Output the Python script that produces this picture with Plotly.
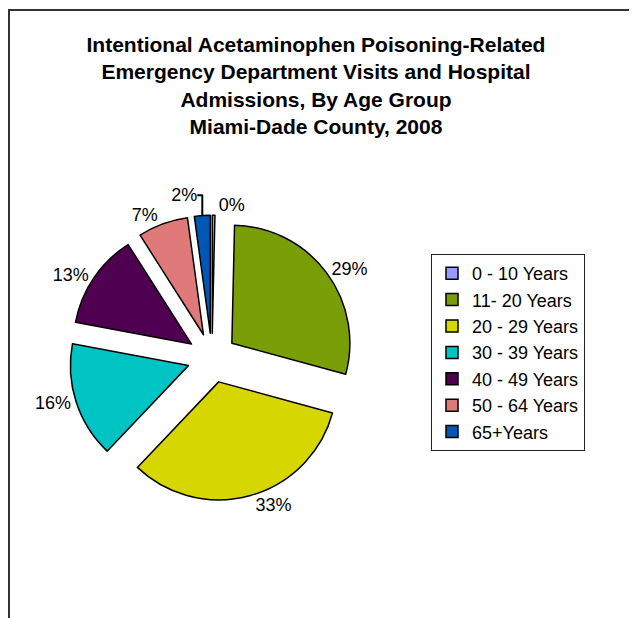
import plotly.graph_objects as go

age_groups = ["0 - 10 Years", "11- 20 Years", "20 - 29 Years", "30 - 39 Years",
              "40 - 49 Years", "50 - 64 Years", "65+Years"]
visits = [1, 80, 91, 44, 36, 19, 6]
slice_colors = ["#9999FF", "#7A9E08", "#D6D600", "#00C4C4", "#500050", "#E07A7A", "#0058B4"]

title_lines = ["Intentional Acetaminophen Poisoning-Related",
               "Emergency Department Visits and Hospital",
               "Admissions, By Age Group",
               "Miami-Dade County, 2008"]

W, H = 637, 618

fig = go.Figure()
fig.add_trace(go.Pie(
    labels=age_groups,
    values=visits,
    sort=False,
    direction="clockwise",
    rotation=0,
    pull=0.21,
    marker=dict(colors=slice_colors, line=dict(color="black", width=1.5)),
    textposition="outside",
    texttemplate="%{percent:.0%}",
    textfont=dict(family="Liberation Sans, Arial, sans-serif", size=18, color="black"),
    hoverinfo="label+percent+value",
    domain=dict(x=[0.0961, 0.5444], y=[0.2026, 0.6647]),
))

fig.update_layout(
    width=W, height=H,
    margin=dict(l=0, r=0, t=0, b=0, autoexpand=False),
    paper_bgcolor="white",
    plot_bgcolor="white",
    title=dict(
        text="<br>".join(title_lines),
        x=0.4835, xanchor="center",
        y=1 - 44 / H, yanchor="top", yref="container",
        font=dict(family="Liberation Sans, Arial, sans-serif", size=21, color="black", weight="bold"),
    ),
    legend=dict(
        x=423 / W, xanchor="left",
        y=1 - 246 / H, yanchor="top",
        bgcolor="white",
        bordercolor="#222222", borderwidth=1,
        font=dict(family="Liberation Sans, Arial, sans-serif", size=18, color="black"),
        traceorder="normal",
    ),
    shapes=[
        dict(type="line", xref="paper", yref="paper", x0=1 / W, x1=1 / W,
             y0=0, y1=1 - 2 / H, line=dict(color="#333333", width=2)),
        dict(type="line", xref="paper", yref="paper", x0=0, x1=1,
             y0=1 - 2 / H, y1=1 - 2 / H, line=dict(color="#333333", width=2)),
    ],
)

fig.write_html("out.html")
